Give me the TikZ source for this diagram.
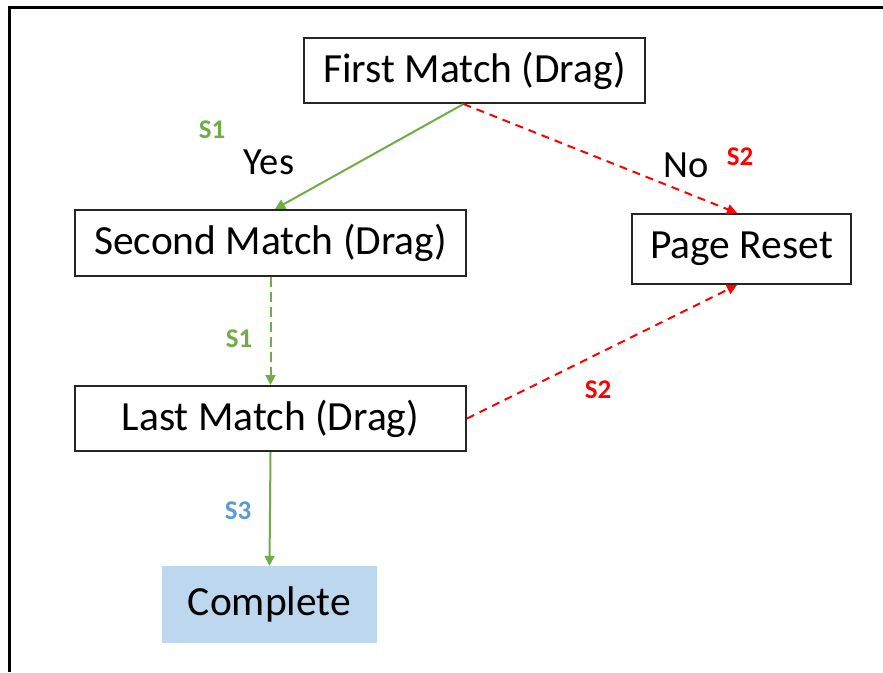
\documentclass[tikz,border=0pt]{standalone}
\usepackage{fontspec}
\setmainfont{Carlito}
\usetikzlibrary{arrows.meta,calc}
\definecolor{boxline}{HTML}{262626}
\definecolor{grn}{HTML}{70AD47}
\definecolor{rd}{HTML}{FF0000}
\definecolor{blu}{HTML}{5B9BD5}
\definecolor{cfill}{HTML}{BDD7EE}
\tikzset{
  stepbox/.style={draw=boxline, line width=2pt, fill=white, inner sep=0pt, font=\fontsize{41.5}{48}\selectfont},
  endbox/.style={fill=cfill, inner sep=0pt, font=\fontsize{41.5}{48}\selectfont},
  tip/.style={-{Triangle[length=10pt,width=10pt]}},
  garrow/.style={tip, draw=grn, line width=2pt},
  rarrow/.style={tip, draw=rd, line width=2pt, dash pattern=on 8pt off 6pt},
  glabel/.style={font=\bfseries\fontsize{27}{32}\selectfont},
  yn/.style={font=\fontsize{38.5}{44}\selectfont, text=black},
}
\begin{document}
\begin{tikzpicture}[x=1pt,y=-1pt]
\useasboundingbox (0,0) rectangle (883,672);
\fill[white] (0,0) rectangle (883,672);
\draw[black, line width=3pt] (9,672) -- (9,7) -- (883,7);
\node[stepbox, minimum width=341pt, minimum height=65pt] (fm) at (474.5,70.5) {First Match (Drag)};
\node[stepbox, minimum width=391pt, minimum height=66pt] (sm) at (270.5,243) {Second Match (Drag)};
\node[stepbox, minimum width=219pt, minimum height=70pt] (pr) at (741.5,249) {Page Reset};
\node[stepbox, minimum width=391pt, minimum height=65pt] (lm) at (270.5,418.5) {Last Match (Drag)};
\node[endbox, minimum width=215pt, minimum height=77pt] (cp) at (269.5,604.5) {Complete};
\draw[garrow] ([xshift=-11pt]fm.south) -- ([xshift=4.5pt]sm.north);
\draw[rarrow] ([xshift=-11pt]fm.south) -- ([xshift=-4.5pt]pr.north);
\draw[garrow, dash pattern=on 10pt off 5pt] (sm.south) -- (lm.north);
\draw[rarrow] (lm.east) -- ([xshift=-4.5pt]pr.south);
\draw[garrow] (lm.south) -- (cp.north);
\node[glabel, text=grn] (l1) at (212,130) {S1};
\node[yn] (yes) at (269,162) {Yes};
\node[yn] (no) at (686,165) {No};
\node[glabel, text=rd] (l2) at (740,157) {S2};
\node[glabel, text=grn] (l3) at (239,339) {S1};
\node[glabel, text=rd] (l4) at (598,390) {S2};
\node[glabel, text=blu] (l5) at (238,511) {S3};
\end{tikzpicture}
\end{document}
